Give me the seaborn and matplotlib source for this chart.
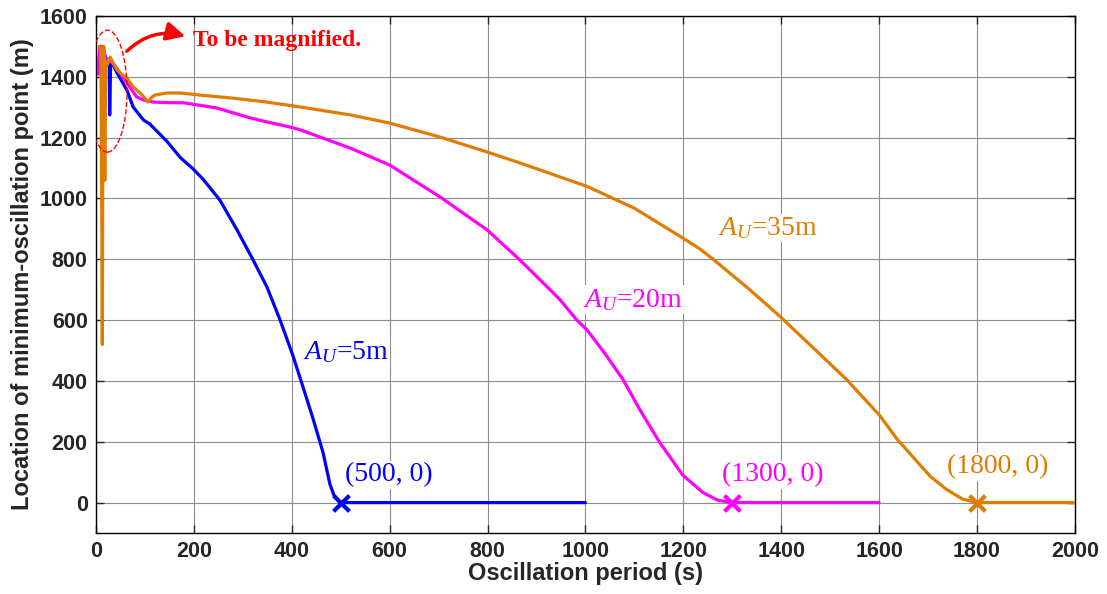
import numpy as np
import pandas as pd
import matplotlib
matplotlib.use("Agg")
import matplotlib.pyplot as plt
import seaborn as sns
from matplotlib.patches import Ellipse, FancyArrowPatch

sns.set_style("ticks")
plt.rcParams['font.family'] = ['Liberation Sans', 'DejaVu Sans']
plt.rcParams['mathtext.fontset'] = 'custom'
plt.rcParams['mathtext.rm'] = 'Liberation Serif'
plt.rcParams['mathtext.it'] = 'Liberation Serif:italic'

# A_U = 5 m
blue_x = [5, 8, 10, 12, 18, 24, 27, 28, 30, 35, 43, 63, 76, 97, 110, 124, 145, 172, 198, 219, 253,
          288, 321, 349, 376, 402, 423, 444, 464, 478, 486, 494, 500, 600, 800, 1000]
blue_y = [1410, 1500, 1500, 1495, 1470, 1450, 1440, 1275, 1450, 1440, 1413, 1357, 1301, 1258, 1245,
          1222, 1188, 1135, 1098, 1063, 995, 897, 798, 710, 601, 485, 380, 273, 164, 60, 25, 8, 0, 0, 0, 0]

# A_U = 20 m
mag_x = [5, 8, 9, 14, 20, 35, 50, 69, 83, 97, 110, 117, 150, 178, 198, 246, 315, 349, 396, 417, 519,
         600, 703, 799, 866, 934, 948, 982, 1003, 1040, 1077, 1111, 1152, 1199, 1240, 1270, 1300, 1400, 1600]
mag_y = [1410, 1500, 1500, 1500, 1460, 1445, 1410, 1367, 1334, 1324, 1320, 1317, 1315, 1315, 1310, 1298,
         1265, 1252, 1235, 1226, 1166, 1110, 1005, 897, 798, 690, 667, 601, 568, 490, 404, 306, 197, 90,
         33, 8, 0, 0, 0]

# A_U = 35 m
or_x = [6, 8, 10, 12, 13, 14, 16, 18, 20, 23, 26, 29, 35, 43, 55, 63, 76, 90, 100, 106, 112, 120, 145,
        172, 212, 280, 349, 417, 519, 600, 703, 799, 866, 1003, 1100, 1193, 1234, 1261, 1330, 1397, 1534,
        1602, 1636, 1704, 1738, 1770, 1800, 1900, 2000]
or_y = [1500, 1500, 1480, 900, 520, 1200, 1500, 1060, 1450, 1440, 1455, 1465, 1445, 1423, 1405, 1396,
        1367, 1347, 1330, 1317, 1330, 1340, 1347, 1347, 1340, 1330, 1317, 1301, 1275, 1248, 1202, 1153,
        1117, 1040, 968, 876, 834, 800, 708, 613, 404, 285, 210, 87, 43, 12, 0, 0, 0]

c_blue = "#0000FF"
c_mag = "#FF00FF"
c_or = "#DE7D00"

end_x = [500, 1300, 1800]
end_y = [0, 0, 0]
end_labels = ["(500, 0)", "(1300, 0)", "(1800, 0)"]
end_label_pos = [(509, 92), (1279, 92), (1738, 118)]
curve_labels = [r"$A_U$=5m", r"$A_U$=20m", r"$A_U$=35m"]
curve_label_pos = [(423, 496), (995, 667), (1271, 903)]
colors = [c_blue, c_mag, c_or]

fig = plt.figure(figsize=(11.07, 5.94), dpi=100)
ax = fig.add_axes([0.0867, 0.1027, 0.8843, 0.8703])

for xs, ys, c in [(blue_x, blue_y, c_blue), (mag_x, mag_y, c_mag), (or_x, or_y, c_or)]:
    df = pd.DataFrame({"T": xs, "loc": ys})
    sns.lineplot(data=df, x="T", y="loc", color=c, lw=2.3, sort=False, estimator=None, ax=ax, zorder=3)

for i in range(3):
    sns.scatterplot(x=[end_x[i]], y=[end_y[i]], color=colors[i], marker="x", s=130, linewidth=3,
                    ax=ax, zorder=5)
    ax.text(end_label_pos[i][0], end_label_pos[i][1], end_labels[i], color=colors[i],
            family="Liberation Serif", fontsize=20, va="center", ha="left", zorder=4,
            bbox=dict(facecolor="white", edgecolor="none", pad=1))
    ax.text(curve_label_pos[i][0], curve_label_pos[i][1], curve_labels[i], color=colors[i],
            family="Liberation Serif", fontsize=20, va="center", ha="left", zorder=4,
            bbox=dict(facecolor="white", edgecolor="none", pad=1))

# magnify note
ax.add_patch(Ellipse((23.5, 1353), 80, 401, fill=False, edgecolor="red", ls="--", lw=1, zorder=6))
ax.add_patch(FancyArrowPatch((59, 1478), (188, 1531), connectionstyle="arc3,rad=-0.3",
                             arrowstyle="-|>", mutation_scale=28, color="red", lw=2.5, zorder=6))
ax.text(198, 1518, "To be magnified.", color="red", family="Liberation Serif", fontweight="bold",
        fontsize=17, va="center", ha="left")

ax.set_xlim(0, 2000)
ax.set_ylim(-100, 1600)
ax.set_xticks(np.arange(0, 2001, 200))
ax.set_yticks(np.arange(0, 1601, 200))
ax.grid(True, color="#8c8c8c", lw=0.8)
ax.set_axisbelow(True)
ax.tick_params(direction="in", top=True, right=True, length=6, width=1, labelsize=15.5, pad=6)
for lab in ax.get_xticklabels() + ax.get_yticklabels():
    lab.set_fontweight("bold")
for s in ax.spines.values():
    s.set_linewidth(1)
    s.set_color("black")
ax.set_xlabel("Oscillation period (s)", fontsize=17, fontweight="bold", labelpad=0)
ax.set_ylabel("Location of minimum-oscillation point (m)", fontsize=17, fontweight="bold", labelpad=4)

fig.savefig("out.png", dpi=100)
